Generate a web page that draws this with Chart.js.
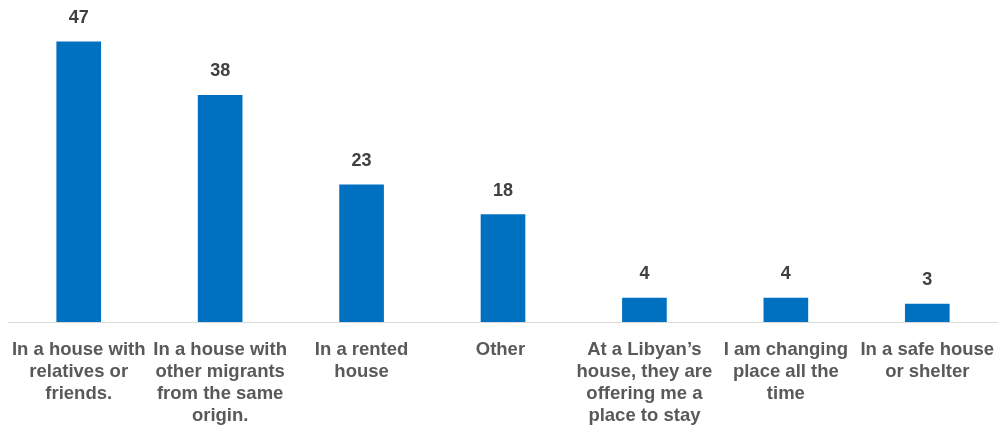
<!DOCTYPE html>
<html>
<head>
<meta charset="utf-8">
<script src="https://cdn.jsdelivr.net/npm/chart.js@4/dist/chart.umd.min.js"></script>
<style>
  html, body { margin: 0; padding: 0; background: #fff; }
  #wrap { width: 998px; height: 427px; position: relative; }
</style>
</head>
<body>
<div id="wrap"><canvas id="chart"></canvas></div>
<script>
// categories, split into the lines shown under each bar
const categories = [
  ['In a house with', 'relatives or', 'friends.'],
  ['In a house with', 'other migrants', 'from the same', 'origin.'],
  ['In a rented', 'house'],
  ['Other '],
  ['At a Libyan\u2019s', 'house, they are', 'offering me a', 'place to stay'],
  ['I am changing', 'place all the', 'time'],
  ['In a safe house', 'or shelter']
];
const counts = [47, 38, 23, 18, 4, 4, 3];

const barColor = '#0070C0';

// value labels above each bar
const valueLabels = {
  id: 'valueLabels',
  afterDatasetsDraw(chart) {
    const ctx = chart.ctx;
    const meta = chart.getDatasetMeta(0);
    ctx.save();
    ctx.font = 'bold 18px "Liberation Sans", Arial, sans-serif';
    ctx.fillStyle = '#404040';
    ctx.textAlign = 'center';
    ctx.textBaseline = 'alphabetic';
    meta.data.forEach((bar, i) => {
      ctx.fillText(String(counts[i]), bar.x, bar.y - 19);
    });
    ctx.restore();
  }
};

new Chart(document.getElementById('chart'), {
  type: 'bar',
  data: {
    labels: categories,
    datasets: [{
      data: counts,
      backgroundColor: barColor,
      barThickness: 44
    }]
  },
  options: {
    responsive: true,
    maintainAspectRatio: false,
    animation: false,
    layout: { padding: { left: 8, right: 0, top: 0, bottom: 0 } },
    plugins: {
      legend: { display: false },
      tooltip: { enabled: false }
    },
    scales: {
      x: {
        grid: { display: false, drawTicks: false },
        border: { display: true, color: '#d9d9d9', width: 1 },
        ticks: {
          color: '#595959',
          font: { family: '"Liberation Sans", Arial, sans-serif', size: 18.5, weight: 'bold', lineHeight: 1.19 },
          padding: 17,
          maxRotation: 0,
          minRotation: 0,
          autoSkip: false
        },
        afterFit(scale) {
          scale.height = 105;
          scale.paddingLeft = 0;
          scale.paddingRight = 0;
        }
      },
      y: {
        display: false,
        min: 0,
        max: 54
      }
    }
  },
  plugins: [valueLabels]
});
</script>
</body>
</html>
